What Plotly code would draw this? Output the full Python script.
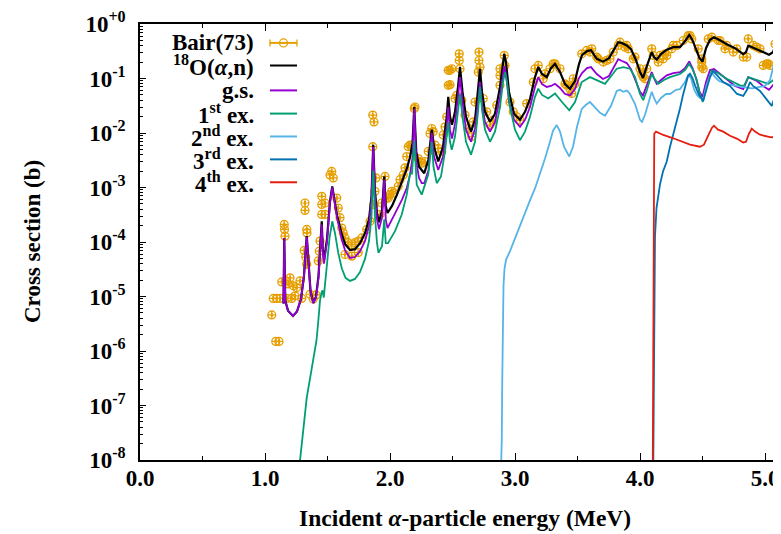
import plotly.graph_objects as go

# ---------------- data (energy in MeV, cross section in b) ----------------
bair = [
    (1.054, 4.6e-6), (1.086, 1.5e-6), (1.112, 1.5e-6), (1.066, 9.2e-6), (1.094, 9.2e-6),
    (1.120, 9.2e-6), (1.154, 2.1e-4), (1.156, 1.7e-4), (1.160, 1.28e-4), (1.134, 1.85e-5),
    (1.168, 1.93e-5), (1.186, 1.7e-5), (1.200, 2.2e-5), (1.226, 1.57e-5), (1.254, 1.46e-5),
    (1.280, 1.93e-5), (1.174, 9.2e-6), (1.214, 9.2e-6), (1.240, 1.03e-5), (1.294, 9.2e-6),
    (1.314, 7.0e-5), (1.326, 5.3e-5), (1.334, 3.9e-5), (1.320, 5.2e-4), (1.320, 3.8e-4),
    (1.334, 1.7e-4), (1.336, 1.47e-4), (1.360, 1.1e-5), (1.386, 9.0e-6), (1.408, 1.07e-5),
    (1.426, 4.5e-5), (1.434, 6.8e-5), (1.440, 1.04e-4), (1.454, 6.9e-4), (1.480, 5.2e-4),
    (1.454, 4.9e-4), (1.454, 3.2e-4), (1.480, 3.2e-4), (1.534, 1.97e-3), (1.520, 1.7e-3),
    (1.546, 1.5e-3), (1.574, 6.4e-4), (1.586, 4.2e-4), (1.600, 2.8e-4), (1.614, 1.8e-4),
    (1.626, 1.47e-4), (1.640, 1.19e-4), (1.666, 9.7e-5), (1.694, 9.0e-5), (1.720, 9.7e-5),
    (1.746, 1.04e-4), (1.640, 5.9e-5), (1.694, 5.5e-5), (1.746, 6.4e-5), (1.774, 1.19e-4),
    (1.814, 1.7e-4), (1.840, 2.4e-4), (1.862, 0.0213), (1.872, 0.016), (1.862, 5.6e-3),
    (1.872, 4.9e-4), (1.880, 8.5e-4), (1.888, 1.5e-3), (1.920, 3.2e-4), (1.934, 5.2e-4),
    (1.960, 1.6e-3), (1.986, 6.4e-4), (2.014, 8.5e-4), (1.974, 6.4e-4), (2.000, 7.4e-4),
    (2.026, 7.9e-4), (2.066, 1.05e-3), (2.080, 1.39e-3), (2.106, 1.7e-3), (2.120, 2.3e-3),
    (2.134, 3.7e-3), (2.146, 5.6e-3), (2.160, 6.0e-3), (2.194, 0.0281), (2.200, 0.030),
    (2.226, 3.4e-3), (2.240, 3.0e-3), (2.254, 2.8e-3), (2.280, 3.0e-3), (2.306, 4.6e-3),
    (2.320, 9.8e-3), (2.334, 0.0121), (2.346, 0.0106), (2.360, 6.0e-3), (2.386, 5.2e-3),
    (2.414, 4.6e-3), (2.426, 9.2e-3), (2.440, 0.013), (2.454, 0.0198), (2.466, 0.075),
    (2.480, 0.141), (2.494, 0.151), (2.466, 0.141), (2.480, 0.077), (2.520, 0.043),
    (2.534, 0.049), (2.560, 0.151), (2.554, 0.284), (2.554, 0.215), (2.574, 0.040),
    (2.600, 0.0213), (2.626, 0.0121), (2.654, 8.6e-3), (2.666, 0.016), (2.680, 0.037),
    (2.706, 0.131), (2.720, 0.162), (2.712, 0.305), (2.712, 0.215), (2.746, 0.043),
    (2.774, 0.0245), (2.800, 0.014), (2.826, 0.0173), (2.854, 0.0324), (2.880, 0.075),
    (2.906, 0.131), (2.920, 0.174), (2.914, 0.265), (2.880, 0.151), (2.880, 0.114),
    (2.960, 0.037), (2.986, 0.0245), (3.014, 0.0198), (3.040, 0.0173), (3.094, 0.0347),
    (3.146, 0.086), (3.160, 0.151), (3.186, 0.174), (3.226, 0.099), (3.240, 0.122),
    (3.280, 0.151), (3.306, 0.186), (3.320, 0.186), (3.360, 0.151), (3.400, 0.080),
    (3.414, 0.075), (3.440, 0.065), (3.454, 0.053), (3.466, 0.099), (3.480, 0.080),
    (3.534, 0.284), (3.574, 0.327), (3.600, 0.305), (3.614, 0.35), (3.654, 0.247),
    (3.666, 0.23), (3.706, 0.20), (3.734, 0.215), (3.760, 0.23), (3.786, 0.305),
    (3.826, 0.404), (3.840, 0.464), (3.880, 0.376), (3.894, 0.404), (3.906, 0.35),
    (3.946, 0.23), (3.960, 0.247), (4.000, 0.151), (4.014, 0.122), (4.026, 0.106),
    (4.040, 0.099), (4.054, 0.151), (4.094, 0.35), (4.106, 0.265), (4.146, 0.20),
    (4.160, 0.265), (4.186, 0.23), (4.200, 0.284), (4.214, 0.265), (4.254, 0.35),
    (4.266, 0.404), (4.294, 0.404), (4.346, 0.498), (4.386, 0.614), (4.400, 0.614),
    (4.414, 0.532), (4.466, 0.35), (4.494, 0.23), (4.494, 0.20), (4.494, 0.162),
    (4.506, 0.151), (4.546, 0.532), (4.574, 0.572), (4.626, 0.498), (4.640, 0.498),
    (4.680, 0.35), (4.694, 0.404), (4.746, 0.305), (4.774, 0.35), (4.826, 0.247),
    (4.854, 0.247), (4.866, 0.532), (4.906, 0.404), (4.934, 0.376), (4.960, 0.35),
    (4.986, 0.174), (5.014, 0.186), (5.026, 0.186), (5.040, 0.174), (5.080, 0.431),
    (5.106, 0.404),
]

total = [
    (1.148, 7.4e-6), (1.154, 1.18e-4), (1.162, 8.4e-6), (1.184, 5.5e-6), (1.224, 4.4e-6),
    (1.256, 5.3e-6), (1.288, 9.1e-6), (1.312, 2.4e-5), (1.334, 1.28e-4), (1.348, 3.6e-5),
    (1.364, 1.27e-5), (1.386, 7.7e-6), (1.408, 9.9e-6), (1.428, 2.4e-5), (1.444, 8.4e-5),
    (1.454, 2.4e-4), (1.462, 7.4e-5), (1.472, 4.7e-5), (1.496, 1.13e-4), (1.520, 5.6e-4),
    (1.538, 1.05e-3), (1.556, 6.1e-4), (1.576, 3.1e-4), (1.614, 1.39e-4), (1.640, 9.2e-5),
    (1.680, 7.1e-5), (1.720, 7.4e-5), (1.760, 9.5e-5), (1.800, 1.45e-4), (1.832, 2.6e-4),
    (1.852, 6.9e-4), (1.866, 6.1e-3), (1.880, 8.5e-4), (1.896, 3.4e-4), (1.912, 2.3e-4),
    (1.936, 3.7e-4), (1.954, 1.6e-3), (1.966, 4.5e-4), (1.980, 3.4e-4), (2.016, 4.6e-4),
    (2.056, 7.4e-4), (2.096, 1.3e-3), (2.134, 2.2e-3), (2.160, 3.6e-3), (2.180, 6.5e-3),
    (2.194, 0.030), (2.210, 4.6e-3), (2.232, 2.4e-3), (2.274, 1.83e-3), (2.308, 3.3e-3),
    (2.334, 0.0115), (2.352, 5.6e-3), (2.386, 3.0e-3), (2.424, 5.6e-3), (2.454, 0.0198),
    (2.466, 0.046), (2.480, 0.0198), (2.496, 0.0142), (2.520, 0.0245), (2.544, 0.070),
    (2.560, 0.162), (2.580, 0.0567), (2.608, 0.0198), (2.648, 0.0106), (2.680, 0.0175),
    (2.704, 0.0617), (2.720, 0.151), (2.736, 0.0567), (2.760, 0.0245), (2.800, 0.0161),
    (2.840, 0.0225), (2.880, 0.070), (2.904, 0.20), (2.914, 0.284), (2.928, 0.20),
    (2.952, 0.0567), (2.992, 0.0225), (3.040, 0.0175), (3.080, 0.0245), (3.120, 0.042),
    (3.160, 0.106), (3.186, 0.162), (3.216, 0.121), (3.254, 0.106), (3.288, 0.155),
    (3.320, 0.186), (3.360, 0.131), (3.400, 0.079), (3.440, 0.065), (3.480, 0.090),
    (3.512, 0.184), (3.536, 0.268), (3.576, 0.318), (3.608, 0.331), (3.654, 0.23),
    (3.704, 0.204), (3.752, 0.237), (3.792, 0.345), (3.826, 0.464), (3.856, 0.445),
    (3.894, 0.404), (3.928, 0.345), (3.968, 0.218), (4.000, 0.131), (4.024, 0.102),
    (4.052, 0.162), (4.094, 0.305), (4.112, 0.247), (4.134, 0.222), (4.168, 0.280),
    (4.214, 0.338), (4.266, 0.376), (4.320, 0.376), (4.360, 0.483), (4.394, 0.63),
    (4.420, 0.504), (4.448, 0.345), (4.476, 0.237), (4.500, 0.204), (4.528, 0.36),
    (4.560, 0.515), (4.592, 0.572), (4.640, 0.504), (4.694, 0.426), (4.760, 0.36),
    (4.826, 0.28), (4.848, 0.305), (4.866, 0.40), (4.896, 0.376), (4.936, 0.345),
    (4.984, 0.305), (5.032, 0.274), (5.064, 0.305), (5.088, 0.431), (5.112, 0.376),
    (5.144, 0.331),
]

ground = [
    (1.148, 7.4e-6), (1.154, 1.18e-4), (1.162, 8.4e-6), (1.184, 5.5e-6), (1.224, 4.4e-6),
    (1.256, 5.3e-6), (1.288, 9.0e-6), (1.312, 2.4e-5), (1.334, 1.25e-4), (1.348, 3.6e-5),
    (1.364, 1.25e-5), (1.386, 7.5e-6), (1.408, 9.5e-6), (1.428, 2.2e-5), (1.444, 7.5e-5),
    (1.454, 2.1e-4), (1.462, 6.5e-5), (1.472, 4.0e-5), (1.496, 1.0e-4), (1.520, 5.2e-4),
    (1.538, 1.0e-3), (1.556, 5.6e-4), (1.576, 2.8e-4), (1.614, 1.11e-4), (1.640, 7.1e-5),
    (1.680, 5.1e-5), (1.720, 5.3e-5), (1.760, 6.8e-5), (1.800, 1.04e-4), (1.832, 1.95e-4),
    (1.852, 6.1e-4), (1.866, 5.6e-3), (1.880, 6.9e-4), (1.896, 2.6e-4), (1.912, 1.72e-4),
    (1.936, 2.8e-4), (1.954, 1.4e-3), (1.966, 2.6e-4), (1.980, 1.8e-4), (2.016, 2.6e-4),
    (2.056, 3.9e-4), (2.096, 6.0e-4), (2.134, 9.8e-4), (2.160, 1.7e-3), (2.180, 3.5e-3),
    (2.194, 0.0277), (2.210, 3.0e-3), (2.232, 1.5e-3), (2.254, 1.2e-3), (2.274, 1.2e-3),
    (2.308, 2.1e-3), (2.334, 0.0101), (2.352, 3.7e-3), (2.386, 2.1e-3), (2.424, 3.7e-3),
    (2.454, 0.013), (2.466, 0.030), (2.480, 0.0115), (2.496, 7.9e-3), (2.520, 0.0148),
    (2.544, 0.046), (2.560, 0.106), (2.580, 0.037), (2.608, 0.0115), (2.648, 6.9e-3),
    (2.680, 0.012), (2.704, 0.037), (2.720, 0.086), (2.736, 0.034), (2.760, 0.016),
    (2.800, 0.0106), (2.840, 0.016), (2.880, 0.046), (2.904, 0.121), (2.914, 0.169),
    (2.928, 0.121), (2.952, 0.037), (2.992, 0.0175), (3.040, 0.013), (3.080, 0.0175),
    (3.120, 0.030), (3.160, 0.070), (3.186, 0.106), (3.216, 0.079), (3.254, 0.070),
    (3.288, 0.073), (3.320, 0.080), (3.360, 0.067), (3.400, 0.052), (3.440, 0.049),
    (3.480, 0.064), (3.512, 0.102), (3.536, 0.126), (3.576, 0.155), (3.608, 0.162),
    (3.654, 0.121), (3.704, 0.098), (3.752, 0.111), (3.792, 0.162), (3.826, 0.227),
    (3.856, 0.209), (3.894, 0.192), (3.928, 0.149), (3.968, 0.086), (4.000, 0.057),
    (4.024, 0.049), (4.052, 0.073), (4.094, 0.131), (4.112, 0.102), (4.134, 0.080),
    (4.168, 0.094), (4.214, 0.114), (4.266, 0.126), (4.320, 0.131), (4.360, 0.155),
    (4.394, 0.206), (4.420, 0.155), (4.448, 0.102), (4.476, 0.057), (4.500, 0.046),
    (4.528, 0.086), (4.560, 0.143), (4.592, 0.149), (4.640, 0.121), (4.694, 0.098),
    (4.760, 0.073), (4.826, 0.064), (4.866, 0.106), (4.936, 0.090), (4.984, 0.073),
    (5.032, 0.062), (5.072, 0.079), (5.100, 0.073), (5.144, 0.064),
]

first_ex = [
    (1.272, 6.6e-9), (1.280, 1.0e-8), (1.304, 3.5e-8), (1.334, 1.4e-7), (1.360, 3.1e-7),
    (1.386, 6.7e-7), (1.412, 1.56e-6), (1.428, 3.9e-6), (1.440, 8.4e-6), (1.452, 1.17e-5),
    (1.460, 1.3e-5), (1.470, 9.5e-6), (1.480, 1.78e-5), (1.496, 4.9e-5), (1.516, 1.18e-4),
    (1.538, 2.4e-4), (1.560, 1.45e-4), (1.586, 6.3e-5), (1.614, 3.3e-5), (1.644, 2.2e-5),
    (1.680, 1.93e-5), (1.720, 2.1e-5), (1.760, 2.8e-5), (1.800, 4.9e-5), (1.832, 1.04e-4),
    (1.852, 3.0e-4), (1.866, 2.05e-3), (1.880, 3.0e-4), (1.896, 9.5e-5), (1.908, 6.3e-5),
    (1.936, 8.4e-5), (1.954, 2.6e-4), (1.966, 9.5e-5), (1.984, 9.5e-5), (2.040, 1.58e-4),
    (2.094, 3.2e-4), (2.134, 7.4e-4), (2.160, 1.8e-3), (2.176, 1.8e-3), (2.194, 7.2e-3),
    (2.214, 1.12e-3), (2.254, 7.4e-4), (2.306, 1.73e-3), (2.334, 6.9e-3), (2.348, 2.4e-3),
    (2.374, 1.2e-3), (2.408, 1.6e-3), (2.440, 4.6e-3), (2.466, 0.016), (2.480, 6.9e-3),
    (2.494, 4.9e-3), (2.520, 8.6e-3), (2.544, 0.0245), (2.560, 0.053), (2.580, 0.0198),
    (2.608, 6.9e-3), (2.648, 4.0e-3), (2.680, 6.9e-3), (2.704, 0.0245), (2.720, 0.070),
    (2.736, 0.0266), (2.760, 0.0115), (2.800, 6.9e-3), (2.840, 0.0106), (2.880, 0.030),
    (2.904, 0.086), (2.920, 0.131), (2.936, 0.086), (2.960, 0.030), (3.000, 0.0115),
    (3.040, 7.4e-3), (3.080, 0.0106), (3.120, 0.0198), (3.160, 0.046), (3.186, 0.065),
    (3.216, 0.050), (3.266, 0.043), (3.320, 0.053), (3.376, 0.037), (3.434, 0.026),
    (3.480, 0.037), (3.534, 0.086), (3.600, 0.106), (3.656, 0.094), (3.720, 0.080),
    (3.776, 0.116), (3.814, 0.151), (3.866, 0.162), (3.920, 0.151), (3.960, 0.106),
    (4.000, 0.052), (4.026, 0.040), (4.056, 0.062), (4.094, 0.122), (4.112, 0.102),
    (4.146, 0.080), (4.192, 0.094), (4.240, 0.106), (4.320, 0.121), (4.360, 0.143),
    (4.394, 0.186), (4.424, 0.143), (4.454, 0.093), (4.480, 0.052), (4.502, 0.037),
    (4.528, 0.070), (4.574, 0.141), (4.624, 0.126), (4.694, 0.099), (4.800, 0.075),
    (4.832, 0.073), (4.866, 0.106), (4.934, 0.093), (5.026, 0.080), (5.066, 0.093),
    (5.088, 0.122), (5.128, 0.122), (5.160, 0.121),
]

second_ex = [
    (2.888, 6.6e-9), (2.894, 2.3e-8), (2.898, 2.9e-7), (2.902, 3.6e-6), (2.908, 1.57e-5),
    (2.916, 3.2e-5), (2.928, 4.7e-5), (2.960, 6.8e-5), (3.000, 1.18e-4), (3.040, 2.1e-4),
    (3.080, 3.5e-4), (3.120, 5.8e-4), (3.160, 9.6e-4), (3.200, 1.73e-3), (3.240, 3.4e-3),
    (3.280, 6.9e-3), (3.304, 0.011), (3.334, 0.014), (3.360, 0.0106), (3.392, 5.6e-3),
    (3.434, 3.7e-3), (3.464, 5.6e-3), (3.496, 0.013), (3.534, 0.0277), (3.568, 0.033),
    (3.600, 0.037), (3.648, 0.0277), (3.680, 0.0235), (3.720, 0.0207), (3.768, 0.0315),
    (3.814, 0.059), (3.840, 0.062), (3.866, 0.057), (3.896, 0.060), (3.920, 0.052),
    (3.960, 0.034), (4.000, 0.0175), (4.016, 0.016), (4.040, 0.0216), (4.068, 0.037),
    (4.094, 0.057), (4.112, 0.044), (4.134, 0.0347), (4.168, 0.044), (4.208, 0.052),
    (4.240, 0.052), (4.288, 0.062), (4.320, 0.064), (4.360, 0.086), (4.386, 0.116),
    (4.408, 0.102), (4.432, 0.064), (4.456, 0.050), (4.480, 0.044), (4.506, 0.042),
    (4.536, 0.079), (4.574, 0.129), (4.600, 0.106), (4.632, 0.090), (4.704, 0.079),
    (4.800, 0.071), (4.896, 0.066), (5.000, 0.073), (5.040, 0.094), (5.064, 0.162),
    (5.080, 0.218), (5.096, 0.131), (5.112, 0.090), (5.136, 0.070),
]

third_ex = [
    (4.106, 6.6e-9), (4.110, 1.25e-7), (4.114, 8.4e-6), (4.120, 1.28e-4), (4.132, 4.2e-4),
    (4.160, 1.14e-3), (4.184, 1.97e-3), (4.214, 3.0e-3), (4.240, 5.6e-3), (4.266, 9.2e-3),
    (4.292, 0.016), (4.320, 0.0281), (4.344, 0.050), (4.364, 0.079), (4.384, 0.111),
    (4.400, 0.122), (4.420, 0.102), (4.440, 0.075), (4.472, 0.050), (4.506, 0.039),
    (4.536, 0.070), (4.560, 0.106), (4.586, 0.137), (4.624, 0.111), (4.666, 0.086),
    (4.720, 0.073), (4.776, 0.052), (4.826, 0.048), (4.856, 0.062), (4.880, 0.086),
    (4.904, 0.073), (4.960, 0.059), (5.008, 0.042), (5.054, 0.0315), (5.076, 0.044),
    (5.094, 0.054), (5.112, 0.044), (5.136, 0.039),
]

fourth_ex = [
    (4.102, 6.6e-9), (4.106, 8.4e-6), (4.110, 3.0e-3), (4.114, 9.7e-3), (4.128, 0.0106),
    (4.186, 9.2e-3), (4.266, 8.0e-3), (4.320, 7.2e-3), (4.400, 6.1e-3), (4.480, 5.6e-3),
    (4.512, 6.1e-3), (4.544, 8.9e-3), (4.576, 0.0125), (4.592, 0.0136), (4.624, 0.0115),
    (4.666, 0.0106), (4.720, 8.9e-3), (4.774, 7.9e-3), (4.826, 6.7e-3), (4.848, 6.9e-3),
    (4.872, 9.7e-3), (4.894, 0.012), (4.920, 0.0106), (4.960, 9.3e-3), (5.040, 8.4e-3),
    (5.144, 8.2e-3),
]

y_tick_exps = [0, -1, -2, -3, -4, -5, -6, -7, -8]
y_tick_text = ["10<sup>+0</sup>", "10<sup>-1</sup>", "10<sup>-2</sup>", "10<sup>-3</sup>",
               "10<sup>-4</sup>", "10<sup>-5</sup>", "10<sup>-6</sup>", "10<sup>-7</sup>",
               "10<sup>-8</sup>"]
x_tick_vals = [0, 1, 2, 3, 4, 5]
x_tick_text = ["0.0", "1.0", "2.0", "3.0", "4.0", "5.0"]

legend_labels = ["Bair(73)", "<sup>18</sup>O(<i>α</i>,n)", "g.s.", "1<sup>st</sup> ex.",
                 "2<sup>nd</sup> ex.", "3<sup>rd</sup> ex.", "4<sup>th</sup> ex."]

# ---------------- style ----------------
C_DATA = "#E69F00"
C_TOT = "#000000"
C_GS = "#9400D3"
C_EX1 = "#009E73"
C_EX2 = "#56B4E9"
C_EX3 = "#0072B2"
C_EX4 = "#E51E10"
FONT = "Liberation Serif"
FS = 23

def xy(pairs):
    return [p[0] for p in pairs], [p[1] for p in pairs]

fig = go.Figure()

bx, by = xy(bair)
fig.add_trace(go.Scatter(
    x=bx, y=by, mode="markers",
    marker=dict(symbol="circle-cross-open", size=8, color=C_DATA, line=dict(width=1.2, color=C_DATA)),
    error_x=dict(type="constant", value=0.004, color=C_DATA, thickness=1, width=2),
    showlegend=False))

for pairs, col, w in [(total, C_TOT, 2.2), (ground, C_GS, 1.8), (first_ex, C_EX1, 1.8),
                      (second_ex, C_EX2, 1.8), (third_ex, C_EX3, 1.8), (fourth_ex, C_EX4, 1.8)]:
    ex, ey = xy(pairs)
    fig.add_trace(go.Scatter(x=ex, y=ey, mode="lines", line=dict(color=col, width=w),
                             showlegend=False))

# ---------------- manual gnuplot-style key ----------------
# (page body has an 8 px margin, so the figure is 8 px smaller than the window)
W_PLOT = 641.0
H_PLOT = 438.0
def px(xp):
    return (xp - 140.0) / W_PLOT
def py(yp):
    return (460.0 - yp) / H_PLOT

rows = [41, 63.7, 88.7, 112, 135, 158, 181]
cols = [C_DATA, C_TOT, C_GS, C_EX1, C_EX2, C_EX3, C_EX4]
annotations = []
shapes = []
for lab, r, col in zip(legend_labels, rows, cols):
    annotations.append(dict(x=px(256), y=py(r), xref="paper", yref="paper", text=lab,
                            showarrow=False, xanchor="right", yanchor="middle",
                            font=dict(family=FONT, size=FS, color="black", weight="bold")))
    shapes.append(dict(type="line", xref="paper", yref="paper", x0=px(270), x1=px(297),
                       y0=py(r), y1=py(r), line=dict(color=col, width=2)))
r0 = rows[0]
for xc in (270, 297):
    shapes.append(dict(type="line", xref="paper", yref="paper", xsizemode="pixel",
                       ysizemode="pixel", xanchor=px(xc), yanchor=py(r0),
                       x0=0, x1=0, y0=-3.5, y1=3.5, line=dict(color=C_DATA, width=1.3)))
shapes.append(dict(type="circle", xref="paper", yref="paper", xsizemode="pixel",
                   ysizemode="pixel", xanchor=px(283.5), yanchor=py(r0),
                   x0=-4, x1=4, y0=-4, y1=4, line=dict(color=C_DATA, width=1.3),
                   fillcolor="rgba(0,0,0,0)"))

annotations.append(dict(x=px(465), y=py(518), xref="paper", yref="paper",
                        text="Incident <i>α</i>-particle energy (MeV)", showarrow=False,
                        xanchor="center", yanchor="middle",
                        font=dict(family=FONT, size=FS + 0.5, color="black", weight="bold")))
annotations.append(dict(x=px(32), y=py(241), xref="paper", yref="paper",
                        text="Cross section (b)", showarrow=False, textangle=-90,
                        xanchor="center", yanchor="middle",
                        font=dict(family=FONT, size=FS, color="black", weight="bold")))

minor_y = [k * 10.0 ** n for n in range(-8, 0) for k in range(2, 10)]
minor_x = [0.5, 1.5, 2.5, 3.5, 4.5]

fig.update_layout(
    width=773, height=526,
    margin=dict(l=132, r=0, t=14, b=74),
    paper_bgcolor="white", plot_bgcolor="white",
    font=dict(family=FONT, size=FS, color="black", weight="bold"),
    showlegend=False,
    annotations=annotations,
    shapes=shapes,
    xaxis=dict(range=[0, 5.128], tickmode="array", tickvals=x_tick_vals, ticktext=x_tick_text,
               ticks="inside", ticklen=7, tickwidth=1.2, tickcolor="black",
               showline=True, linecolor="black", linewidth=1.5, mirror="ticks",
               showgrid=False, zeroline=False, ticklabelstandoff=-3,
               ticklabeloverflow="allow",
               minor=dict(tickmode="array", tickvals=minor_x, ticks="inside", ticklen=4,
                          tickcolor="black", tickwidth=1, showgrid=False),
               tickfont=dict(family=FONT, size=FS, color="black", weight="bold")),
    yaxis=dict(type="log", range=[-8, 0], tickmode="array",
               tickvals=[10.0 ** e for e in y_tick_exps], ticktext=y_tick_text,
               ticks="inside", ticklen=6, tickwidth=1.2, tickcolor="black",
               showline=True, linecolor="black", linewidth=1.5, mirror=False,
               showgrid=False, zeroline=False, ticklabelstandoff=8,
               ticklabeloverflow="allow",
               minor=dict(tickmode="array", tickvals=minor_y, ticks="inside", ticklen=3,
                          tickcolor="black", tickwidth=1, showgrid=False),
               tickfont=dict(family=FONT, size=FS, color="black", weight="bold")),
)

fig.write_html("out.html")
